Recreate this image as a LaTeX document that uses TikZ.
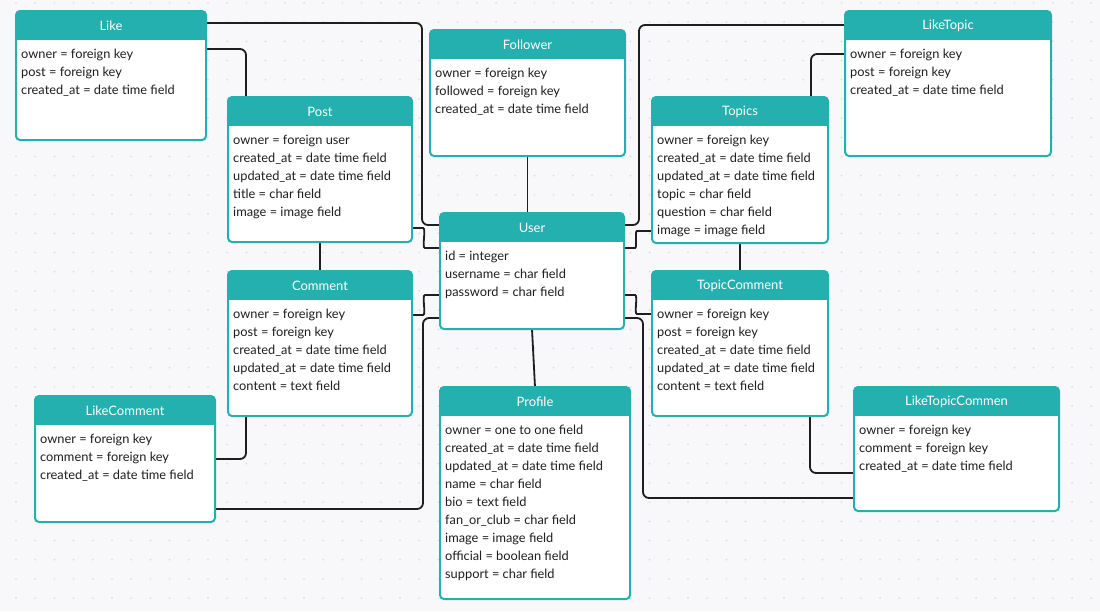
\documentclass[tikz,border=0pt]{standalone}
\usepackage{fontspec}
\setmainfont{Lato}
\usetikzlibrary{calc}
\definecolor{teal1}{HTML}{24B0AF}
\definecolor{bg}{HTML}{F8F8FB}
\definecolor{dotc}{HTML}{D8D8DE}
\definecolor{ink}{HTML}{1E1E1E}
\definecolor{conc}{HTML}{1E1E1E}
\tikzset{
  boxnode/.style={draw=none, inner sep=0pt, outer sep=0pt, anchor=north west},
  boxframe/.style={draw=teal1, line width=2pt, rounded corners=4pt},
  conn/.style={draw=conc, line width=1.8pt, rounded corners=6pt},
  titletext/.style={text=white, font=\fontsize{13}{15}\selectfont, inner sep=0pt},
  fieldtext/.style={text=ink, font=\fontsize{12.8}{18}\selectfont, align=left, anchor=north west, inner sep=0pt},
}
\newcommand\erdef[5]{%
  \node[boxnode, minimum width=#4pt, minimum height=#5pt] (#1) at (#2,#3) {};}
\newcommand\erdraw[3]{%
  \fill[white, rounded corners=4pt] (#1.north west) rectangle (#1.south east);
  \begin{scope}
    \clip[rounded corners=4pt] (#1.north west) rectangle (#1.south east);
    \fill[teal1] (#1.north west) rectangle ($(#1.north east)+(0,28.5)$);
  \end{scope}
  \draw[boxframe] (#1.north west) rectangle (#1.south east);
  \node[titletext] (#1-t) at ($(#1.north)+(0,14.5)$) {#2};
  \node[fieldtext] (#1-f) at ($(#1.north west)+(5,38.2)$) {#3};}
\begin{document}
\begin{tikzpicture}[x=1pt,y=-1pt]
\useasboundingbox (0,0) rectangle (1100,611);
\fill[bg] (0,0) rectangle (1100,611);
\foreach \i in {0,...,56} {\foreach \j in {0,...,31} {\fill[dotc] (16+19.2*\i,2.9+19.2*\j) circle (0.9pt);}}
% box frames (positions)
\erdef{like}{16}{11}{190}{129}
\erdef{post}{228}{97}{184}{145}
\erdef{follower}{430}{30}{195}{126}
\erdef{topics}{652}{97}{176}{146}
\erdef{liketopic}{845}{11}{206}{145}
\erdef{user}{440}{213}{184}{116}
\erdef{comment}{228}{271}{184}{145}
\erdef{topiccomment}{652}{271}{176}{145}
\erdef{likecomment}{35}{396}{180}{126}
\erdef{profile}{440}{387}{190}{212}
\erdef{ltc}{854}{387}{205}{124}
% connectors
\draw[conn] ($(like.north east)+(0,12)$) -| ($(user.north west)+(-18,12)$) -- ($(user.north west)+(0,12)$);
\draw[conn] ($(like.north east)+(0,38)$) -| ($(post.north west)+(18,0)$);
\draw[conn] ($(post.north east)+(0,131)$) -- ++(5,0) to[out=0,in=180] ($(user.north west)+(-9,35)$) -- ($(user.north west)+(0,35)$);
\draw[conn] (follower.south) -- (follower.south |- user.north);
\draw[conn] ($(user.north east)+(0,12)$) -| ($(liketopic.north west)+(-206,14)$) -- ($(liketopic.north west)+(0,14)$);
\draw[conn] ($(user.north east)+(0,35)$) -- ++(5,0) to[out=0,in=180] ($(topics.north west)+(-9,134)$) -- ($(topics.north west)+(0,134)$);
\draw[conn] ($(liketopic.north west)+(0,43)$) -| ($(topics.north west)+(159,0)$);
\draw[conn] (topics.south) -- (topics.south |- topiccomment.north);
\draw[conn] (post.south) -- (post.south |- comment.north);
\draw[conn] ($(comment.north east)+(0,44)$) -- ++(5,0) to[out=0,in=180] ($(user.north west)+(-9,82)$) -- ($(user.north west)+(0,82)$);
\draw[conn] ($(likecomment.north east)+(0,113)$) -| ($(user.north west)+(-17,105)$) -- ($(user.north west)+(0,105)$);
\draw[conn] ($(likecomment.north east)+(0,63)$) -| ($(comment.south west)+(18,0)$);
\draw[conn] ($(user.north east)+(0,82)$) -- ++(5,0) to[out=0,in=180] ($(topiccomment.north west)+(-9,43)$) -- ($(topiccomment.north west)+(0,43)$);
\draw[conn] ($(user.north east)+(0,105)$) -- ($(user.north east)+(19,105)$) |- ($(ltc.north west)+(0,111)$);
\draw[conn] ($(topiccomment.south east)+(-18,0)$) |- ($(ltc.north west)+(0,86)$);
\draw[conn] (user.south) -- (profile.north);
% boxes
\erdraw{like}{Like}{owner = foreign key\\post = foreign key\\created\_at = date time field}
\erdraw{post}{Post}{owner = foreign user\\created\_at = date time field\\updated\_at = date time field\\title = char field\\image = image field}
\erdraw{follower}{Follower}{owner = foreign key\\followed = foreign key\\created\_at = date time field}
\erdraw{topics}{Topics}{owner = foreign key\\created\_at = date time field\\updated\_at = date time field\\topic = char field\\question = char field\\image = image field}
\erdraw{liketopic}{LikeTopic}{owner = foreign key\\post = foreign key\\created\_at = date time field}
\erdraw{user}{User}{id = integer\\username = char field\\password = char field}
\erdraw{comment}{Comment}{owner = foreign key\\post = foreign key\\created\_at = date time field\\updated\_at = date time field\\content = text field}
\erdraw{topiccomment}{TopicComment}{owner = foreign key\\post = foreign key\\created\_at = date time field\\updated\_at = date time field\\content = text field}
\erdraw{likecomment}{LikeComment}{owner = foreign key\\comment = foreign key\\created\_at = date time field}
\erdraw{profile}{Profile}{owner = one to one field\\created\_at = date time field\\updated\_at = date time field\\name = char field\\bio = text field\\fan\_or\_club = char field\\image = image field\\official = boolean field\\support = char field}
\erdraw{ltc}{LikeTopicCommen}{owner = foreign key\\comment = foreign key\\created\_at = date time field}
\end{tikzpicture}
\end{document}
